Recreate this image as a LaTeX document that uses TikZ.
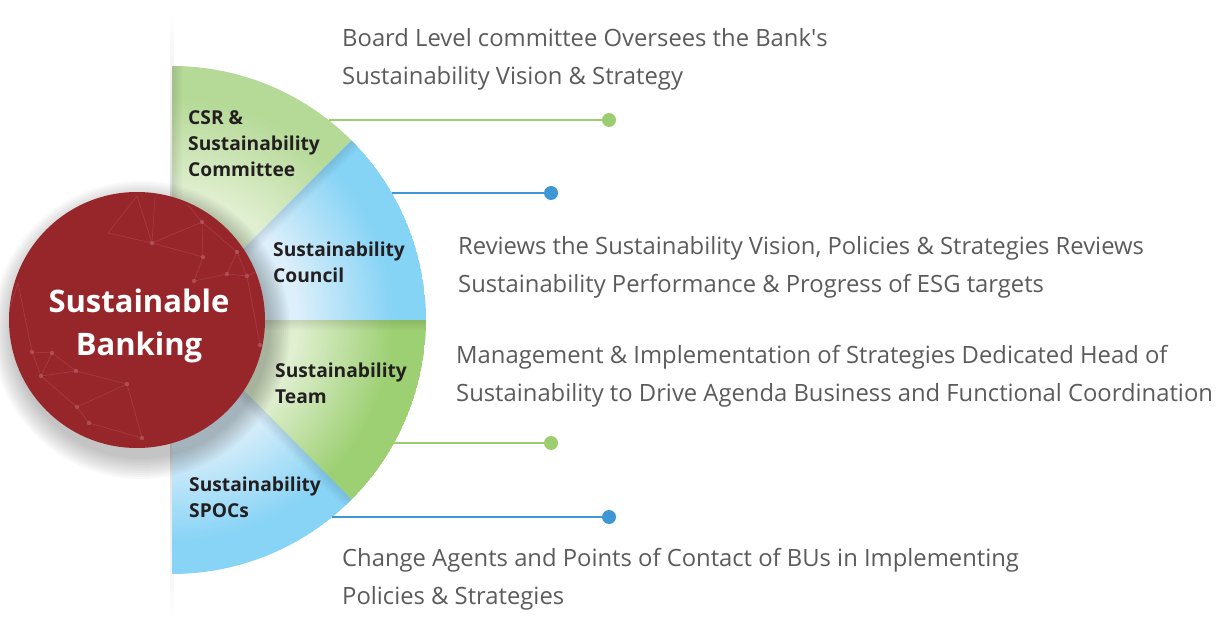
\documentclass[tikz,border=0pt]{standalone}
\usepackage{fontspec}
\setmainfont{Open Sans}
\definecolor{SBRed}{HTML}{97262B}
\definecolor{SBNet}{HTML}{B85A61}
\definecolor{SBGreen}{HTML}{9CCD6F}
\definecolor{SBBlue}{HTML}{3D97D4}
\definecolor{SBCommittee}{HTML}{B5D997}
\definecolor{SBCouncil}{HTML}{85D3F5}
\definecolor{SBTeam}{HTML}{9DCF73}
\definecolor{SBSpocs}{HTML}{88D4F6}
\definecolor{SBGreenPale}{HTML}{E0EFD0}
\definecolor{SBSkyPale}{HTML}{DCEFFA}
\definecolor{SBText}{HTML}{5B5B5B}
\definecolor{SBInk}{HTML}{231F20}

\begin{document}
\begin{tikzpicture}[x=1pt,y=1pt,line cap=round,line join=round,
  desc/.style={anchor=base west,align=left,text=SBText,inner sep=0pt,font=\fontsize{23.8}{38}\selectfont},
  tier/.style={anchor=base west,align=left,text=SBInk,inner sep=0pt,font=\bfseries\fontsize{19.2}{26}\selectfont},
  leader/.style={line width=2.6pt,line cap=butt},
  knob/.style={circle,inner sep=0pt,minimum size=14pt}]
  \useasboundingbox (0,0) rectangle (1220,622);
  % faded spine behind the half disc
  \shade[top color=white,bottom color=black!22] (170.5,302) rectangle (173.5,612);
  \shade[top color=black!22,bottom color=white] (170.5,2) rectangle (173.5,302);
  % four quarter sectors, pale near the hub and full at the rim
  \coordinate (C) at (172,302);
  \foreach \a/\deep/\pale in {90/SBCommittee/SBGreenPale,45/SBCouncil/SBSkyPale,0/SBTeam/SBGreenPale,-45/SBSpocs/SBSkyPale}{
    \begin{scope}
      \clip (C) -- ++(\a:254) arc[start angle=\a,end angle=\a-45,radius=254] -- cycle;
      \foreach \r [evaluate=\r as \p using {min(100,max(0,(\r-128)*100/95))}] in {254,251,...,110}
        \fill[\deep!\p!\pale] (C) circle (\r);
      % soft shade along the divider on its clockwise side
      \foreach \w in {2,4,...,10}
        \fill[black,opacity=.02] (C) -- ++(\a:260) -- ++(\a-90:\w) -- ++(\a+180:260) -- cycle;
    \end{scope}
  }
  % shadow under the hub
  \foreach \r in {129,131,...,149}
    \fill[black,opacity=.025] (141,292) circle (\r);
  \node[circle,fill=SBRed,inner sep=0pt,minimum size=256pt] (hub) at (137,302) {};
  % faint network on the hub
  \begin{scope}
    \clip (hub.center) circle (128);
    \foreach \n/\px/\py in {1/152/379,2/202/400,3/188/417,4/203/365,5/237/370,6/194/341,7/227/348,8/247/346,9/260/277,10/108/389,11/18/339,12/32/270,13/52/269,14/41/246,15/76/251,16/127/238,17/77/215,18/89/199,19/142/184,20/137/426,21/155/425,22/275/360,23/5/300}
      \coordinate (n\n) at (\px,\py);
    \foreach \a/\b in {20/1,21/1,10/1,1/2,1/4,2/4,2/5,3/2,4/6,6/7,7/8,5/7,5/8,8/9,8/22,10/20,11/12,11/23,12/13,13/14,14/15,13/15,15/16,14/17,16/17,17/18,16/19,18/19,12/14}
      \draw[SBNet,opacity=.45,line width=.6pt] (n\a) -- (n\b);
    \foreach \n in {1,2,4,5,6,7,8,9,12,13,14,15,16,17,18,19}
      \fill[SBNet,opacity=.7] (n\n) circle (2.2);
  \end{scope}
  \node[anchor=base,align=center,text=white,inner sep=0pt,font=\bfseries\fontsize{31}{43}\selectfont] (hubtext) at (139,267) {Sustainable\\Banking};
  % tier labels
  \node[tier] (committee) at (188,445) {CSR \&\\Sustainability\\Committee};
  \node[tier] (council) at (273,339) {Sustainability\\Council};
  \node[tier] (team) at (275,219) {Sustainability\\Team};
  \node[tier] (spocs) at (189,105) {Sustainability\\SPOCs};
  % leaders from the rim to the knobs
  \coordinate (a1) at (328.6,502);
  \coordinate (a2) at (392,429);
  \coordinate (a3) at (394,179);
  \coordinate (a4) at (332,105);
  \node[knob,fill=SBGreen] (k1) at (609,502) {};
  \node[knob,fill=SBBlue] (k2) at (551,429) {};
  \node[knob,fill=SBGreen] (k3) at (551,179) {};
  \node[knob,fill=SBBlue] (k4) at (609,105) {};
  \draw[leader,SBGreen] (a1) -- (k1);
  \draw[leader,SBBlue] (a2) -- (k2);
  \draw[leader,SBGreen] (a3) -- (k3);
  \draw[leader,SBBlue] (a4) -- (k4);
  % descriptions
  \node[desc] (d1) at (342,537) {Board Level committee Oversees the Bank\textquotesingle s\\Sustainability Vision \& Strategy};
  \node[desc] (d2) at (458,330) {Reviews the Sustainability Vision, Policies \& Strategies Reviews\\Sustainability Performance \& Progress of ESG targets};
  \node[desc] (d3) at (456,221) {Management \& Implementation of Strategies Dedicated Head of\\Sustainability to Drive Agenda Business and Functional Coordination};
  \node[desc] (d4) at (342,18) {Change Agents and Points of Contact of BUs in Implementing\\Policies \& Strategies};
\end{tikzpicture}
\end{document}
